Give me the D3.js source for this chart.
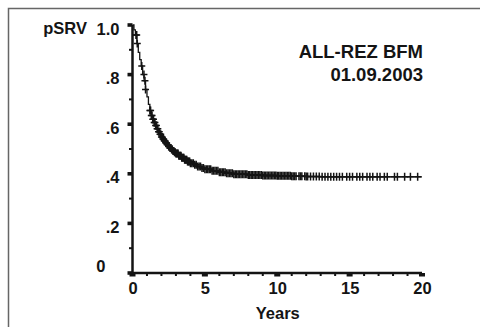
<!DOCTYPE html>
<html>
<head>
<meta charset="utf-8">
<script src="https://cdn.jsdelivr.net/npm/d3@7"></script>
<style>
  body { margin: 0; background: #fff; }
  svg { display: block; font-family: "Liberation Sans", Arial, sans-serif; font-weight: bold; }
</style>
</head>
<body>
<div id="chart"></div>
<script>
// Kaplan-Meier steps (years, survival)
const kmTimes = [0, 0.1, 0.2, 0.3, 0.4, 0.5, 0.6, 0.7, 0.8, 0.9, 1.0, 1.1, 1.2, 1.3, 1.4, 1.5, 1.6, 1.7, 1.8, 1.9, 2.0, 2.1, 2.2, 2.3, 2.4, 2.5, 2.6, 2.7, 2.8, 2.9, 3.0, 3.2, 3.4, 3.6, 3.8, 4.0, 4.25, 4.5, 4.75, 5.0, 5.5, 6.0, 6.5, 7.0, 8.0, 9.0, 10.0, 11.0, 12.0, 13.0, 20.0];
const kmSurv  = [1.0, 0.98, 0.96, 0.925, 0.89, 0.86, 0.835, 0.8, 0.775, 0.74, 0.71, 0.68, 0.655, 0.635, 0.62, 0.607, 0.595, 0.582, 0.57, 0.559, 0.548, 0.54, 0.532, 0.524, 0.517, 0.51, 0.504, 0.498, 0.492, 0.487, 0.482, 0.473, 0.465, 0.457, 0.45, 0.443, 0.436, 0.429, 0.423, 0.418, 0.412, 0.406, 0.402, 0.398, 0.395, 0.393, 0.392, 0.39, 0.389, 0.388, 0.388];

// censored patients (years)
const censorTimes = [
  0.24, 0.29, 0.33, 0.64, 0.79, 0.86, 0.9,
  1.2, 1.25, 1.3, 1.35, 1.4, 1.45, 1.5, 1.55, 1.6, 1.65, 1.7, 1.75, 1.8, 1.85, 1.9, 1.95,
  2.0, 2.05, 2.1, 2.15, 2.2, 2.25, 2.3, 2.35, 2.4, 2.45, 2.5, 2.55, 2.6, 2.65, 2.7, 2.75, 2.8, 2.85, 2.9, 2.95,
  3.0, 3.05, 3.1, 3.15, 3.2, 3.25, 3.3, 3.35, 3.4, 3.45, 3.5, 3.55, 3.6, 3.65, 3.7, 3.75, 3.8, 3.85, 3.9, 3.95,
  4.0, 4.1, 4.2, 4.3, 4.4, 4.5, 4.6, 4.7, 4.8, 4.9,
  5.0, 5.1, 5.2, 5.3, 5.4, 5.5, 5.6, 5.7, 5.8, 5.9, 6.0, 6.1, 6.2, 6.3, 6.4, 6.5, 6.6, 6.7, 6.8, 6.9,
  7.0, 7.1, 7.2, 7.3, 7.4, 7.5, 7.6, 7.7, 7.8, 7.9, 8.0, 8.1, 8.2, 8.3, 8.4, 8.5, 8.6, 8.7, 8.8, 8.9,
  9.0, 9.1, 9.2, 9.3, 9.4, 9.5, 9.6, 9.7, 9.8, 9.9, 10.0, 10.1, 10.2, 10.3, 10.4, 10.5, 10.6, 10.7, 10.8, 10.9,
  11.0, 11.1, 11.2, 11.3, 11.5, 11.6, 11.7, 11.9, 12.0, 12.1, 12.3, 12.5, 12.7, 12.9, 13.1, 13.3, 13.5, 13.7, 13.9,
  14.1, 14.3, 14.5, 14.8, 15.0, 15.2, 15.5, 15.7, 15.9, 16.2, 16.4, 16.6, 16.9, 17.1, 17.4, 17.6,
  18.1, 18.3, 18.8, 19.2, 19.7
];

const yMajor = [0, 0.2, 0.4, 0.6, 0.8, 1.0];
const yMinor = [0.1, 0.3, 0.5, 0.7, 0.9];
const xMajor = [0, 5, 10, 15, 20];
const xMinor = [1, 2, 3, 4, 6, 7, 8, 9, 11, 12, 13, 14, 16, 17, 18, 19];

const W = 480, H = 327;
const ink = '#141414';

const svg = d3.select('#chart').append('svg')
  .attr('width', W).attr('height', H);

// outer frame: only top and left edges visible
svg.append('path')
  .attr('d', `M8.5,${H} V8.5 H${W}`)
  .style('fill', 'none').style('stroke', '#666').style('stroke-width', 1.5);

const x = d3.scaleLinear().domain([0, 20]).range([132.5, 422]);
const y = d3.scaleLinear().domain([0, 1]).range([273, 25]);

// axis lines
svg.append('path')
  .attr('d', `M${x(0)},${y(1)} V${y(0)} H${x(20)}`)
  .style('fill', 'none').style('stroke', ink).style('stroke-width', 2.5);

// y ticks
svg.selectAll('.ymaj').data(yMajor).enter().append('rect')
  .attr('x', x(0) - 5).attr('y', d => y(d) - 1.8)
  .attr('width', 5).attr('height', 3.6).style('fill', ink);
svg.selectAll('.ymin').data(yMinor).enter().append('rect')
  .attr('x', x(0) - 3.5).attr('y', d => y(d) - 1)
  .attr('width', 3).attr('height', 2).style('fill', ink);

// x ticks
svg.selectAll('.xmaj').data(xMajor).enter().append('rect')
  .attr('x', d => x(d) - 3).attr('y', y(0))
  .attr('width', 6).attr('height', 3.5).style('fill', ink);
svg.selectAll('.xmin').data(xMinor).enter().append('rect')
  .attr('x', d => x(d) - 1).attr('y', y(0))
  .attr('width', 2).attr('height', 3).style('fill', ink);

// tick labels through d3 axes
const yFmt = d => d === 0 ? '0' : d === 1 ? '1.0' : d3.format('.1f')(d).replace(/^0/, '');
const gy = svg.append('g')
  .attr('transform', `translate(${x(0)},0)`)
  .call(d3.axisLeft(y).tickValues(yMajor).tickFormat(yFmt).tickSize(0).tickPadding(13));
gy.select('.domain').remove();
gy.selectAll('text').attr('dy', '0.55em')
  .style('font-size', '16.5px').style('font-family', null).style('fill', ink);
gy.selectAll('.tick').filter(d => d === 0).select('text')
  .attr('x', -27).attr('dy', '-0.1em');

const gx = svg.append('g')
  .attr('transform', `translate(0,${y(0)})`)
  .call(d3.axisBottom(x).tickValues(xMajor).tickFormat(d3.format('d')).tickSize(0).tickPadding(9));
gx.select('.domain').remove();
gx.selectAll('text')
  .style('font-size', '16.5px').style('font-family', null).style('fill', ink);

svg.append('text')
  .attr('x', 87).attr('y', y(1) + 8.8)
  .attr('text-anchor', 'end')
  .style('font-size', '16.5px').style('fill', ink)
  .text('pSRV');

svg.append('text')
  .attr('x', (x(0) + x(20)) / 2 + 0.5).attr('y', 319)
  .attr('text-anchor', 'middle')
  .style('font-size', '16.5px').style('fill', ink)
  .text('Years');

svg.append('text')
  .attr('x', 423).attr('y', 58)
  .attr('text-anchor', 'end')
  .style('font-size', '18.5px').style('fill', ink)
  .text('ALL-REZ BFM');
svg.append('text')
  .attr('x', 423).attr('y', 81)
  .attr('text-anchor', 'end')
  .style('font-size', '18.5px').style('fill', ink)
  .text('01.09.2003');

// survival curve
const km = kmTimes.map((t, i) => ({ t: t, s: kmSurv[i] }));
const line = d3.line()
  .x(d => x(d.t))
  .y(d => y(d.s))
  .curve(d3.curveStepAfter);

svg.append('path')
  .datum(km)
  .attr('d', line)
  .style('fill', 'none').style('stroke', ink).style('stroke-width', 1.3);

// censor marks sit on the step the curve is at
const bisect = d3.bisector(d => d.t).right;
const survAt = t => km[Math.max(0, bisect(km, t) - 1)].s;

svg.selectAll('.cens').data(censorTimes).enter().append('path')
  .attr('transform', d => `translate(${x(d)},${y(survAt(d))})`)
  .attr('d', 'M-3.5,0H3.5M0,-4V4')
  .style('fill', 'none').style('stroke', ink).style('stroke-width', 1.5);
</script>
</body>
</html>
